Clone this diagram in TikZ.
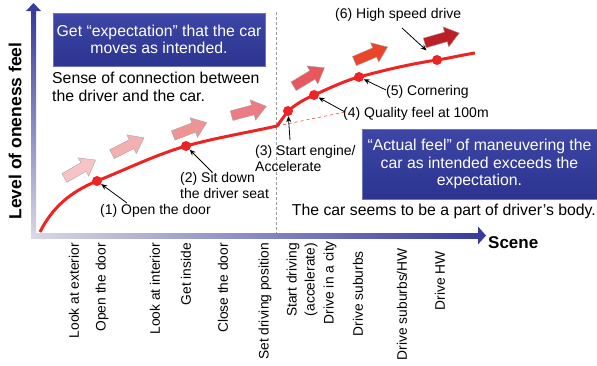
\documentclass[tikz,border=0pt]{standalone}
\usepackage{fontspec}
\setmainfont{Liberation Sans}
\usetikzlibrary{arrows.meta}

\definecolor{curvered}{HTML}{EE2424}
\definecolor{boxtop}{HTML}{3E46A6}
\definecolor{boxbot}{HTML}{2C3490}
\definecolor{axlight}{HTML}{D8D8E6}
\definecolor{axdark}{HTML}{383C9C}
\definecolor{fatA}{HTML}{F6C4C4}
\definecolor{fatB}{HTML}{F3B0B0}
\definecolor{fatC}{HTML}{EF9494}
\definecolor{fatD}{HTML}{EB7C84}
\definecolor{fatE}{HTML}{E8565E}
\definecolor{fatF}{HTML}{E8452A}
\definecolor{fatG}{HTML}{BC2026}

% fat arrow: x, y, angle, colour
\newcommand{\fatarrow}[4]{%
  \filldraw[fill=#4, draw=gray!70, line width=0.4pt, shift={(#1,#2)}, rotate=#3]
    (-18,-5) -- (4,-5) -- (4,-10.5) -- (18,0) -- (4,10.5) -- (4,5) -- (-18,5) -- cycle;}

\tikzset{
  txt/.style={inner sep=0pt, font=\fontsize{14}{16}\selectfont},
  bigtxt/.style={inner sep=0pt, font=\fontsize{15.8}{18}\selectfont},
  scenetxt/.style={inner sep=0pt, rotate=90, anchor=east, font=\fontsize{13.8}{18}\selectfont},
  bluebox/.style={top color=boxtop, bottom color=boxbot, draw=boxtop!75!white, text=white,
    align=center, inner sep=0pt, font=\fontsize{15.8}{17.6}\selectfont},
  dot/.style={circle, fill=curvered, inner sep=0pt, minimum size=10pt},
  pointer/.style={-{Stealth[length=6pt,width=5pt]}, line width=0.8pt, black},
}

\begin{document}
\begin{tikzpicture}[x=1pt, y=-1pt]
    \useasboundingbox (0,0) rectangle (597,365);

    % Axes
    \shade[bottom color=axlight, top color=axdark] (31,238) rectangle (36,11);
    \fill[axdark] (26,11) -- (41,11) -- (33.5,3) -- cycle;
    \shade[left color=axlight, right color=axdark] (31,233) rectangle (478,238);
    \fill[axdark] (478,226.5) -- (486,235.5) -- (478,244.5) -- cycle;
    \node[inner sep=0pt, rotate=90, font=\fontsize{17.5}{20}\selectfont\bfseries] (ylab) at (15,131) {Level of oneness feel};
    \node[inner sep=0pt, anchor=west, font=\fontsize{17}{20}\selectfont\bfseries] (xlab) at (488,243) {Scene};

    % Border between the two phases
    \draw[gray!80, densely dashed, line width=0.5pt] (276,12) -- (276,233);

    % Fat arrows
    \fatarrow{80}{169}{30}{fatA}
    \fatarrow{128}{146}{27}{fatB}
    \fatarrow{190}{129}{21}{fatC}
    \fatarrow{249}{111}{15}{fatD}
    \fatarrow{309}{77}{31}{fatE}
    \fatarrow{371}{54}{23}{fatF}
    \fatarrow{442}{38}{16}{fatG}

    % Oneness curve
    \coordinate (kink) at (277,126);
    \draw[curvered, line width=3pt, line join=round]
        (40,232) .. controls (52,208) and (70,192) .. (97,181)
        .. controls (127,169) and (155,155) .. (186,146)
        .. controls (215,138) and (250,132) .. (kink)
        -- (288,111)
        .. controls (296,104) and (305,99) .. (314,95)
        .. controls (330,88) and (344,81) .. (359,77)
        .. controls (385,70) and (410,64) .. (437,60)
        .. controls (450,58) and (462,55) .. (475,53);
    \node[dot] (d1) at (97,181) {};
    \node[dot] (d2) at (186,146) {};
    \node[dot] (d3) at (288,111) {};
    \node[dot] (d4) at (314,95) {};
    \node[dot] (d5) at (359,77) {};
    \node[dot] (d6) at (437,60) {};

    % Stage labels
    \node[txt, anchor=west] (l1) at (100,211) {(1) Open the door};
    \node[txt, anchor=west, align=left] (l2) at (180,185) {(2) Sit down\\the driver seat};
    \node[txt, anchor=west, align=left] (l3) at (255,158) {(3) Start engine/\\Accelerate};
    \node[txt, anchor=west] (l4) at (343,114) {(4) Quality feel at 100m};
    \node[txt, anchor=west] (l5) at (386,92) {(5) Cornering};
    \node[txt, anchor=west] (l6) at (335,15) {(6) High speed drive};
    \coordinate (t1) at (127,203);
    \coordinate (t2) at (212,172);
    \coordinate (t3) at (290,140);
    \coordinate (t4) at (345,112);
    \coordinate (t5) at (386,90);
    \coordinate (t6) at (402,28);
    \draw[pointer] (t1) -- (d1);
    \draw[pointer] (t2) -- (d2);
    \draw[pointer] (t3) -- (d3);
    \draw[pointer] (t4) -- (d4);
    \draw[pointer] (t5) -- (d5);
    \draw[pointer, shorten >=9pt] (t6) -- (d6);
    \draw[curvered, dashed, line width=0.5pt] (kink) -- (t4);

    % Expectation and actual feel
    \node[bluebox, minimum width=212pt, minimum height=53pt] (expect) at (159,39.5)
        {Get “expectation” that the car\\moves as intended.};
    \node[bigtxt, anchor=west, align=left] (sense) at (52,87)
        {Sense of connection between\\the driver and the car.};
    \node[bluebox, minimum width=235pt, minimum height=70pt] (actual) at (479.5,164)
        {“Actual feel” of maneuvering the\\car as intended exceeds the\\expectation.};
    \node[bigtxt, anchor=east] (body) at (596,211) {The car seems to be a part of driver’s body.};

    % Scenes along the x axis
    \node[scenetxt] (s1) at (74,243) {Look at exterior};
    \node[scenetxt] (s2) at (102,243) {Open the door};
    \node[scenetxt] (s3) at (155,243) {Look at interior};
    \node[scenetxt] (s4) at (186,243) {Get inside};
    \node[scenetxt] (s5) at (223,243) {Close the door};
    \node[scenetxt] (s6) at (265,243) {Set driving position};
    \node[scenetxt, align=right] (s7) at (302,243) {Start driving\\(accelerate)};
    \node[scenetxt] (s8) at (330,241) {Drive in a city};
    \node[scenetxt] (s9) at (358,251) {Drive suburbs};
    \node[scenetxt] (s10) at (402,248) {Drive suburbs/HW};
    \node[scenetxt] (s11) at (440,251) {Drive HW};
\end{tikzpicture}
\end{document}
